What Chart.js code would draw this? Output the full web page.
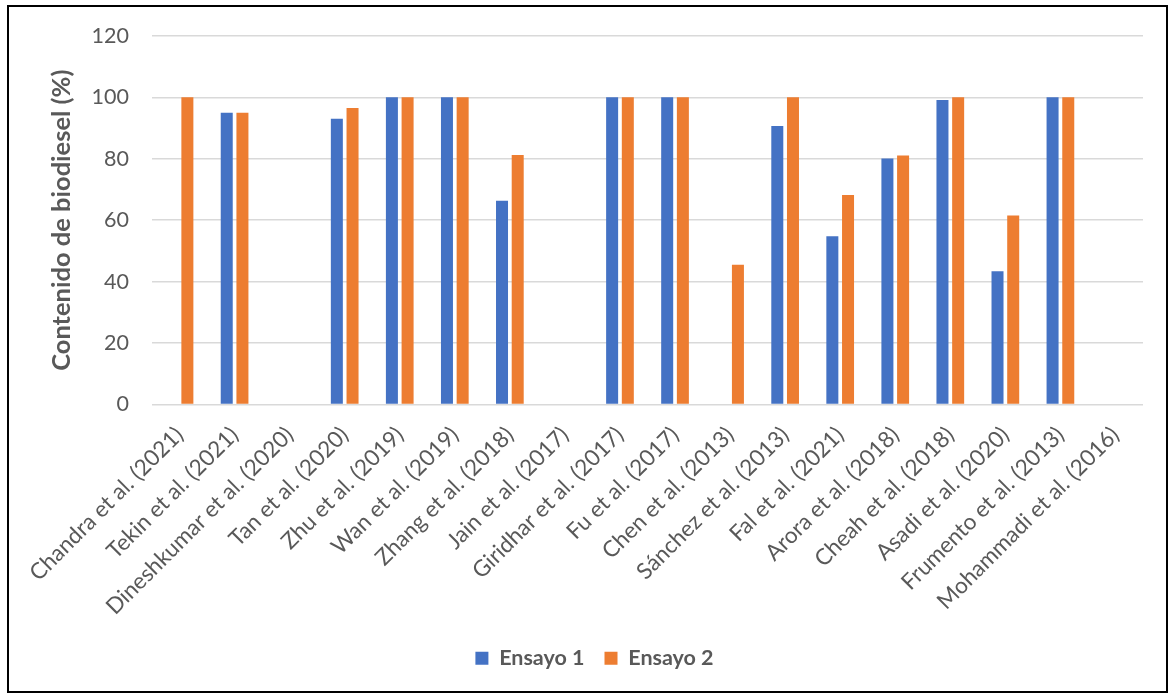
<!DOCTYPE html>
<html>
<head>
<meta charset="utf-8">
<script src="https://cdn.jsdelivr.net/npm/chart.js@4"></script>
<style>
  html, body { margin: 0; padding: 0; background: #fff; }
  #wrap { position: absolute; left: 0; top: 0; width: 1170px; height: 694px; }
  #frame { position: absolute; left: 7px; top: 5px; width: 1161px; height: 688px;
           box-sizing: border-box; border: 2px solid #000; pointer-events: none; }
</style>
</head>
<body>
<div id="wrap">
  <canvas id="chart" width="1170" height="694"></canvas>
  <div id="frame"></div>
</div>
<script>
// Studies compared
const categories = [
  'Chandra et al. (2021)', 'Tekin et al. (2021)', 'Dineshkumar et al. (2020)',
  'Tan et al. (2020)', 'Zhu et al. (2019)', 'Wan et al. (2019)',
  'Zhang et al. (2018)', 'Jain et al. (2017)', 'Giridhar et al. (2017)',
  'Fu et al. (2017)', 'Chen et al. (2013)', 'Sánchez et al. (2013)',
  'Fal et al. (2021)', 'Arora et al. (2018)', 'Cheah et al. (2018)',
  'Asadi et al. (2020)', 'Frumento et al. (2013)', 'Mohammadi et al. (2016)'
];

// Biodiesel content (%) per trial; null where no value was reported
const ensayo1 = [null, 95, null, 93, 100, 100, 66.3, null, 100, 100, null, 90.7, 54.8, 80.1, 99.1, 43.4, 100, null];
const ensayo2 = [100, 95, null, 96.5, 100, 100, 81.2, null, 100, 100, 45.5, 100, 68.2, 81.1, 100, 61.5, 100, null];

const seriesNames = ['Ensayo 1', 'Ensayo 2'];
const yTicks = [0, 20, 40, 60, 80, 100, 120];

const FONT = 'Lato, "Open Sans", sans-serif';
const TEXT = '#595959';
const GRID = '#D9D9D9';

new Chart(document.getElementById('chart'), {
  type: 'bar',
  data: {
    labels: categories,
    datasets: [
      { label: seriesNames[0], data: ensayo1, backgroundColor: '#4472C4',
        categoryPercentage: 0.57, barPercentage: 0.765 },
      { label: seriesNames[1], data: ensayo2, backgroundColor: '#ED7D31',
        categoryPercentage: 0.57, barPercentage: 0.765 }
    ]
  },
  options: {
    responsive: false,
    animation: false,
    layout: { padding: { left: 46, right: 27, top: 34, bottom: 15 } },
    plugins: {
      tooltip: { enabled: false },
      legend: {
        position: 'bottom',
        labels: {
          boxWidth: 13, boxHeight: 13, padding: 20,
          color: TEXT,
          font: { family: FONT, size: 21.5, weight: 'bold' }
        }
      }
    },
    scales: {
      x: {
        grid: { display: false, drawTicks: false },
        border: { display: false },
        ticks: {
          autoSkip: false, maxRotation: 45, minRotation: 45, padding: 17,
          color: TEXT, font: { family: FONT, size: 22.5 }
        },
        afterFit: s => { s.height = 223; }
      },
      y: {
        min: 0, max: 120,
        afterBuildTicks: s => { s.ticks = yTicks.map(v => ({ value: v })); },
        grid: { color: GRID, lineWidth: 1.5, drawTicks: false },
        border: { display: false },
        ticks: { padding: 23, color: TEXT, font: { family: FONT, size: 21.5 } },
        title: {
          display: true, text: 'Contenido de biodiesel (%)', color: TEXT,
          padding: 0, font: { family: FONT, size: 25.5, weight: 'bold' }
        },
        afterFit: s => { s.width = 106; }
      }
    }
  }
});
</script>
</body>
</html>
